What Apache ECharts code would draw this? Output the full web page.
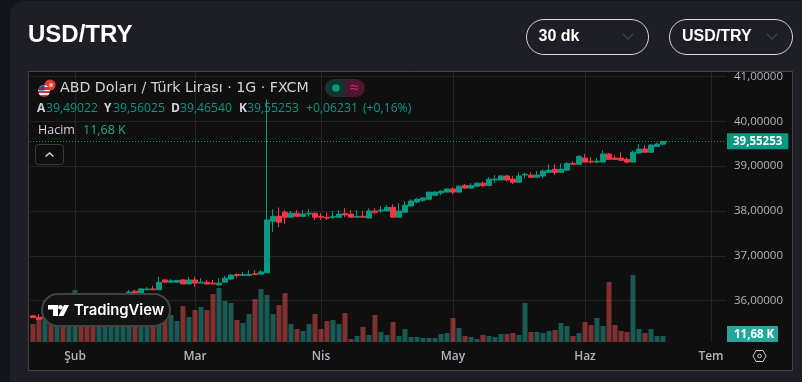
<!DOCTYPE html>
<html><head><meta charset="utf-8">
<style>html,body{margin:0;padding:0;background:#14151a}#c{width:802px;height:382px}</style>
<script src="https://cdn.jsdelivr.net/npm/echarts@6/dist/echarts.min.js"></script>
</head><body><div id="c"></div>
<script>
const categories=['01-23','01-24','01-27','01-28','01-29','01-30','01-31',
'02-03','02-04','02-05','02-06','02-07','02-10','02-11','02-12','02-13','02-14','02-17','02-18','02-19','02-20','02-21','02-24','02-25','02-26','02-27','02-28',
'03-03','03-04','03-05','03-06','03-07','03-10','03-11','03-12','03-13','03-14','03-17','03-18','03-19','03-20','03-21','03-24','03-25','03-26','03-27','03-28','03-31',
'04-01','04-02','04-03','04-04','04-07','04-08','04-09','04-10','04-11','04-14','04-15','04-16','04-17','04-18','04-21','04-22','04-23','04-24','04-25','04-28','04-29','04-30',
'05-01','05-02','05-05','05-06','05-07','05-08','05-09','05-12','05-13','05-14','05-15','05-16','05-19','05-20','05-21','05-22','05-23','05-26','05-27','05-28','05-29','05-30',
'06-02','06-03','06-04','06-05','06-06','06-09','06-10','06-11','06-12','06-13','06-16','06-17','06-18','06-19','06-20','06-23','06-24','06-25','06-26','06-27','06-30',
'07-01','07-02','07-03'];
const tickDates=['02-03','03-03','04-01','05-01','06-02','07-01'];
const tickLabels=['Şub','Mar','Nis','May','Haz','Tem'];
const opens=[35.66,35.63,35.60,35.68,35.64,35.72,35.68,35.76,35.88,35.84,35.80,35.78,35.84,35.92,35.98,36.04,
36.17,36.21,36.17,36.24,36.26,36.24,36.46,36.41,36.41,36.46,36.37,36.46,36.39,36.41,36.39,36.35,36.41,36.48,36.58,36.56,36.56,36.60,36.59,36.62,
37.77,37.88,37.97,37.86,37.95,37.88,37.93,37.95,37.88,37.86,37.86,37.86,37.94,37.93,37.86,37.88,37.84,38.00,38.00,38.00,38.08,37.86,37.97,38.11,38.20,38.24,
38.26,38.35,38.40,38.42,38.49,38.42,38.57,38.51,38.55,38.62,38.57,38.69,38.69,38.78,38.71,38.64,38.80,38.80,38.75,38.78,38.86,38.93,38.86,38.91,39.06,39.04,
39.18,39.11,39.09,39.09,39.27,39.18,39.18,39.15,39.09,39.29,39.38,39.31,39.44,39.49022];
const closes=[35.62,35.58,35.68,35.64,35.72,35.68,35.76,35.88,35.84,35.80,35.78,35.84,35.92,35.98,36.04,36.12,
36.19,36.17,36.26,36.26,36.24,36.41,36.41,36.44,36.45,36.37,36.46,36.39,36.41,36.37,36.37,36.39,36.50,36.57,36.56,36.58,36.58,36.58,36.64,37.80,
37.88,37.75,37.86,37.95,37.88,37.93,37.95,37.86,37.86,37.84,37.88,37.93,37.91,37.86,37.88,37.86,38.00,37.97,38.02,38.08,37.86,38.00,38.13,38.22,38.26,38.29,
38.42,38.42,38.44,38.49,38.42,38.55,38.51,38.57,38.62,38.57,38.71,38.71,38.78,38.69,38.64,38.78,38.82,38.75,38.80,38.89,38.91,38.86,38.93,39.06,39.04,39.22,
39.09,39.09,39.11,39.27,39.15,39.15,39.13,39.09,39.31,39.38,39.31,39.47,39.49,39.55253];
const lows=[35.62,35.56,35.58,35.62,35.62,35.66,35.66,35.74,35.82,35.78,35.76,35.76,35.82,35.90,35.96,36.02,
36.17,36.17,36.17,36.24,36.24,36.24,36.41,36.41,36.41,36.37,36.37,36.30,36.39,36.35,36.37,36.33,36.41,36.46,36.50,36.56,36.56,36.58,36.59,36.62,
37.53,37.64,37.71,37.86,37.88,37.88,37.88,37.80,37.80,37.80,37.82,37.86,37.86,37.86,37.86,37.86,37.84,37.93,37.95,38.00,37.86,37.86,37.97,38.11,38.17,38.20,
38.26,38.35,38.35,38.42,38.37,38.42,38.49,38.49,38.55,38.53,38.57,38.62,38.69,38.66,38.60,38.64,38.73,38.75,38.75,38.73,38.86,38.80,38.86,38.91,39.04,39.04,
39.09,39.06,39.06,39.09,39.15,39.15,39.13,39.06,39.09,39.27,39.29,39.31,39.44,39.4654];
const highs=[35.68,35.70,35.72,35.72,35.76,35.76,35.80,35.92,35.92,35.88,35.86,35.88,35.96,36.02,36.08,36.14,
36.24,36.24,36.28,36.30,36.33,36.53,36.48,36.48,36.46,36.48,36.53,36.53,36.50,36.46,36.46,36.50,36.55,36.59,36.61,36.64,36.68,36.68,36.68,40.49,
38.04,38.08,38.02,38.00,38.02,38.02,38.04,37.97,37.95,37.97,38.00,38.02,38.06,38.02,38.02,38.00,38.06,38.06,38.11,38.13,38.15,38.17,38.22,38.26,38.29,38.31,
38.42,38.44,38.46,38.51,38.53,38.57,38.60,38.62,38.64,38.66,38.75,38.80,38.80,38.80,38.78,38.86,38.86,38.86,38.89,38.93,39.04,39.04,39.06,39.09,39.11,39.24,
39.27,39.20,39.18,39.35,39.29,39.24,39.31,39.20,39.35,39.49,39.47,39.49,39.53,39.56025];
const volumes=[35,48.7,48.7,35,42.8,58.4,54.5,101.2,66,54.5,58.4,48.7,46.7,58.4,54.5,50.6,
52.6,56.5,60,44,40.9,50.6,48.7,52.6,40.9,70,48.7,62.3,68.1,62.3,93.4,105.1,79.8,75.9,42.8,37,54.5,83.7,103.2,91.5,
54.5,72,95.4,35,25.3,21.4,35,54.5,25.3,40.9,42.8,35,56.5,5.8,11.68,29.2,13.6,52.6,19.5,13.6,38.9,11.68,25.3,9.7,9.7,7.8,7.8,7.8,15.6,17.5,
46.7,27.3,11.68,9.7,5.8,13.6,11.68,9.7,15.6,15.6,17.5,13.6,75.9,19.5,19.5,17.5,21.4,23.4,37,31.1,11.68,17.5,
38.9,33.1,46.7,31.1,116.8,33.1,21.4,19.5,130.4,25.3,17.5,25.3,11.68,11.68];
const priceTicks={min:35,max:41.1,interval:1};
const legendVolume='11,68 K';
const legendRow=[['A','39,49022',37,46],['Y','39,56025',104,113],['D','39,46540',171,180],['K','39,55253',239,247]];
const changeText='+0,06231';const changePct='(+0,16%)';

const TEAL='#089981',RED='#f23645',CARD='#1e1f26',FONT='"Open Sans", Roboto, sans-serif',BOLD='"Liberation Sans", Arial, sans-serif';
const t=(x,y,text,fill,size,extra)=>Object.assign({type:'text',x,y,z:100,silent:true,style:Object.assign({text,fill,font:`${size}px ${FONT}`,textVerticalAlign:'middle'},extra||{})});
const ov=[];
ov.push({type:'rect',z:-20,shape:{x:10,y:1,width:820,height:420,r:14},style:{fill:CARD}});
ov.push({type:'rect',z:-10,shape:{x:28.5,y:71.5,width:764,height:299},style:{fill:'#0f0f0f',stroke:'#434343',lineWidth:1}});
ov.push({type:'rect',z:50,shape:{x:28,y:62,width:766,height:9},style:{fill:CARD}});
ov.push({type:'line',z:51,shape:{x1:28,y1:71.5,x2:793,y2:71.5},style:{stroke:'#434343',lineWidth:1}});
ov.push(t(28,35,'USD/TRY','#ffffff',24,{font:`bold 24px ${BOLD}`}));
[[526.5,122,'30 dk',538.5,628],[669.5,123,'USD/TRY',682,772]].forEach(([x,w,s,tx,cx])=>{
 ov.push({type:'rect',z:100,shape:{x,y:19.5,width:w,height:35,r:17.5},style:{fill:'transparent',stroke:'#d8d8d8',lineWidth:1}});
 ov.push(t(tx,37,s,'#ffffff',16,{font:`bold 16px ${BOLD}`}));
 ov.push({type:'polyline',z:100,shape:{points:[[cx-5,34],[cx,39],[cx+5,34]]},style:{fill:'none',stroke:'#3d3e46',lineWidth:1.5}});
});
ov.push({type:'circle',z:100,shape:{cx:50,cy:85,r:5.6},style:{fill:'#e53935'}});
ov.push({type:'circle',z:100,shape:{cx:51,cy:85,r:2},style:{fill:'#f7b4b4'}});
ov.push({type:'circle',z:101,shape:{cx:44,cy:91,r:6},style:{fill:{type:'linear',x:0,y:0,x2:0,y2:1,colorStops:[{offset:0,color:'#e8e8e8'},{offset:.2,color:'#e8e8e8'},{offset:.2,color:'#d9343a'},{offset:.38,color:'#d9343a'},{offset:.38,color:'#f2f2f2'},{offset:.52,color:'#f2f2f2'},{offset:.52,color:'#d9343a'},{offset:.68,color:'#d9343a'},{offset:.68,color:'#f2f2f2'},{offset:.82,color:'#f2f2f2'},{offset:.82,color:'#d9343a'},{offset:1,color:'#d9343a'}]}}});
ov.push({type:'sector',z:102,shape:{cx:44.5,cy:90.5,r0:0,r:5.5,startAngle:Math.PI,endAngle:Math.PI*1.5},style:{fill:'#2c4a9a'}});
ov.push(t(60,88.5,'ABD Doları / Türk Lirası · 1G · FXCM','#d1d4dc',14.2,{font:'14.2px "DejaVu Sans", sans-serif'}));
ov.push({type:'rect',z:100,shape:{x:325,y:79,width:24,height:18,r:[9,0,0,9]},style:{fill:'#12362f'}});
ov.push({type:'rect',z:100,shape:{x:345,y:79,width:20,height:18,r:[0,9,9,0]},style:{fill:'#4d1530'}});
ov.push({type:'circle',z:101,shape:{cx:336,cy:88,r:3.8},style:{fill:'#089981'}});
ov.push(t(349.5,88,'≈','#e91e63',16));
legendRow.forEach(([k,v,x1,x2])=>{ov.push(t(x1,109,k,'#d1d4dc',12,{font:`bold 12px ${FONT}`}));ov.push(t(x2,109,v,TEAL,12.2));});
ov.push(t(306,109,changeText,TEAL,12.2));ov.push(t(363,109,changePct,TEAL,12.2));
ov.push(t(38,130,'Hacim','#d1d4dc',12.5));ov.push(t(83,130,legendVolume,'#22ab94',12.5));
ov.push({type:'rect',z:100,shape:{x:35.5,y:144.5,width:28,height:20,r:3},style:{fill:'#0f0f0f',stroke:'#3a3a3a',lineWidth:1}});
ov.push({type:'polyline',z:101,shape:{points:[[45.5,156.5],[49.5,153],[53.5,156.5]]},style:{fill:'none',stroke:'#d1d4dc',lineWidth:1.5}});
ov.push({type:'rect',z:100,shape:{x:42,y:294,width:128,height:32,r:16},style:{fill:'#131313',stroke:'#434343',lineWidth:2}});
ov.push({type:'polygon',z:101,shape:{points:[[48,305],[58,305],[58,316],[53,316],[53,309.5],[48,309.5]]},style:{fill:'#fff'}});
ov.push({type:'circle',z:101,shape:{cx:60.5,cy:307.2,r:2.2},style:{fill:'#fff'}});
ov.push({type:'polygon',z:101,shape:{points:[[64,305],[69,305],[63.5,316],[58.5,316]]},style:{fill:'#fff'}});
ov.push(t(74,310.5,'TradingView','#ffffff',14.8,{font:`600 14.8px Inter, ${FONT}`}));
ov.push({type:'rect',z:100,shape:{x:727,y:326,width:51,height:16},style:{fill:'#26a69a'}});
ov.push(t(734,334.5,legendVolume,'#ffffff',11.5,{font:`bold 11.5px ${FONT}`}));
ov.push({type:'polygon',z:100,shape:{points:[[753,356],[756,350.5],[763,350.5],[766,356],[763,361.5],[756,361.5]]},style:{fill:'none',stroke:'#c8c8c8',lineWidth:1}});
ov.push({type:'circle',z:100,shape:{cx:759.5,cy:356,r:1.8},style:{fill:'none',stroke:'#c8c8c8',lineWidth:1}});

const candleData=opens.map((o,i)=>[o,closes[i],lows[i],highs[i]]);
const volData=volumes.map((v,i)=>({value:v,itemStyle:{color:closes[i]>=opens[i]?'rgba(38,166,154,0.5)':'rgba(239,83,80,0.5)'}}));
const chart=echarts.init(document.getElementById('c'),null,{renderer:'canvas',width:802,height:382});
chart.setOption({
 animation:false,backgroundColor:'#14151a',
 grid:[{left:30,right:76,top:72,height:273.4},{left:30,right:76,top:72,bottom:40}],
 xAxis:[
  {type:'category',gridIndex:0,data:categories,show:false},
  {type:'category',gridIndex:1,data:categories,axisLine:{show:false},axisTick:{show:false},
   axisLabel:{interval:(i,v)=>tickDates.includes(v),formatter:v=>tickLabels[tickDates.indexOf(v)]||'',color:'#b2b5be',fontSize:12,fontWeight:600,fontFamily:FONT,margin:9,hideOverlap:false},
   splitLine:{show:true,interval:(i,v)=>tickDates.includes(v),alignWithLabel:true,lineStyle:{color:'#242424',width:1}}}
 ],
 yAxis:[
  {type:'value',gridIndex:0,position:'right',min:priceTicks.min,max:priceTicks.max,interval:priceTicks.interval,
   axisLine:{show:false},axisTick:{show:false},
   axisLabel:{showMinLabel:false,showMaxLabel:false,margin:8,color:'#b2b5be',fontSize:11.5,fontFamily:FONT,formatter:v=>v.toFixed(5).replace('.',',')},
   splitLine:{show:true,showMinLine:false,showMaxLine:false,lineStyle:{color:'#242424',width:1}}},
  {type:'value',gridIndex:1,min:0,max:526,show:false,splitLine:{show:false}}
 ],
 series:[
  {type:'bar',name:'Hacim',xAxisIndex:1,yAxisIndex:1,data:volData,barWidth:5,z:2},
  {type:'candlestick',name:'USD/TRY',xAxisIndex:0,yAxisIndex:0,data:candleData,barWidth:4.6,z:3,
   itemStyle:{color:TEAL,color0:RED,borderColor:TEAL,borderColor0:RED,borderWidth:1},
   markLine:{silent:true,symbol:'none',precision:5,data:[{yAxis:closes[closes.length-1]}],animation:false,
    lineStyle:{type:[1,2],color:TEAL,width:1},
    label:{position:'end',distance:1,formatter:()=>closes[closes.length-1].toFixed(5).replace('.',','),color:'#fff',backgroundColor:TEAL,fontSize:11.5,fontWeight:'bold',fontFamily:FONT,padding:[2,6,2,6]}}}
 ],
 graphic:ov
});
</script></body></html>
